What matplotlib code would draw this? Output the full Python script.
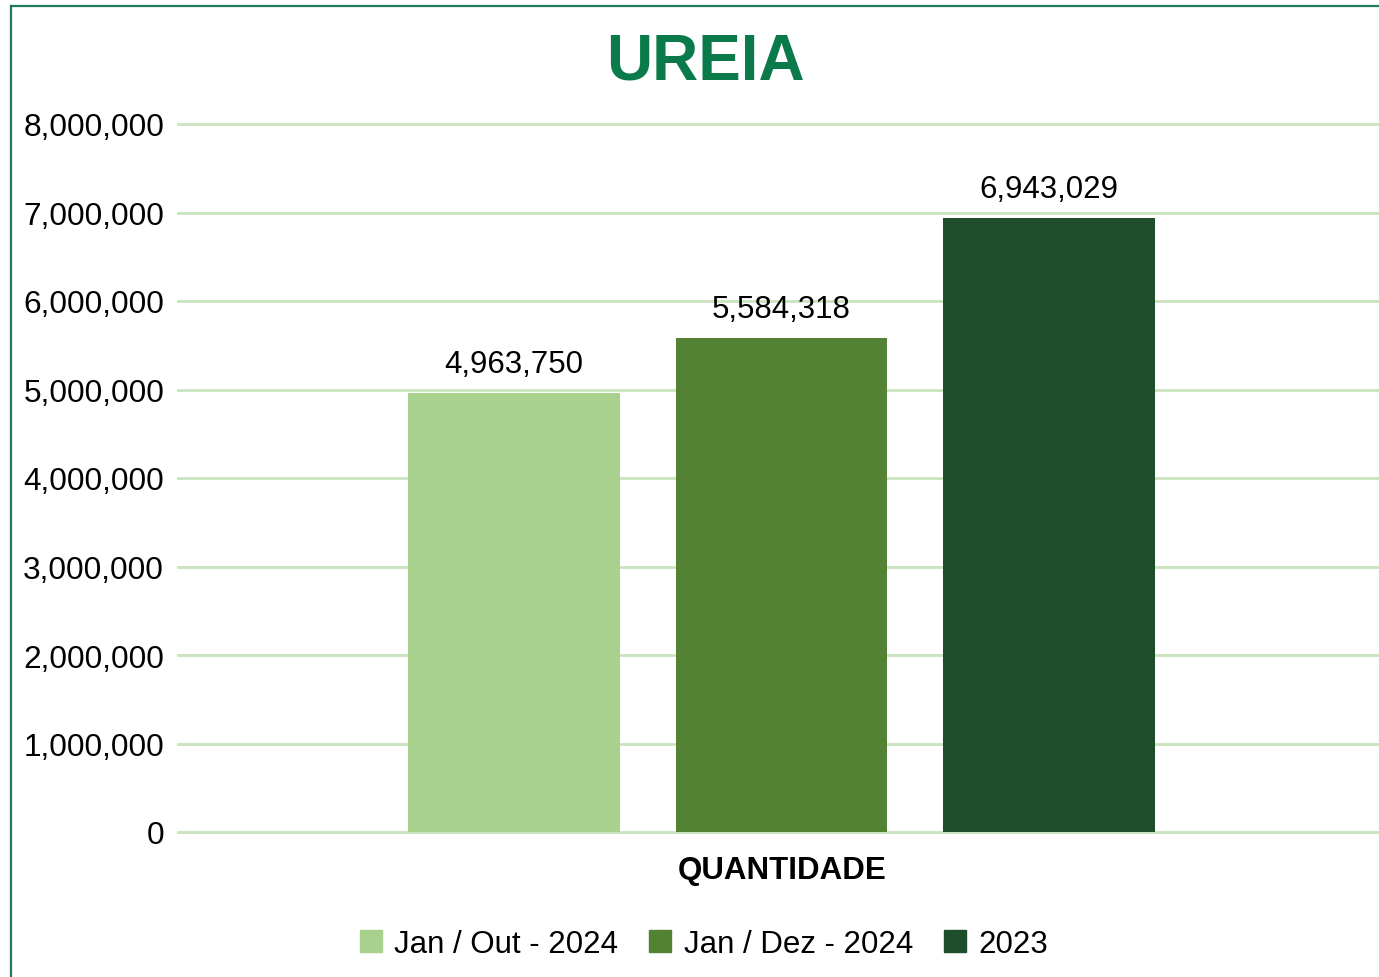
import matplotlib
matplotlib.use("Agg")
import matplotlib.pyplot as plt
from matplotlib.lines import Line2D
from matplotlib.patches import Patch
from matplotlib.ticker import FuncFormatter

plt.rcParams["font.family"] = ["Liberation Sans", "DejaVu Sans"]

series = ["Jan / Out - 2024", "Jan / Dez - 2024", "2023"]
values = [4963750, 5584318, 6943029]
colors = ["#A9D18E", "#548235", "#1E4D2B"]
category = "QUANTIDADE"
title = "UREIA"

W, H = 1379, 978
fig = plt.figure(figsize=(W / 100, H / 100), dpi=100)
ax = fig.add_axes([178 / W, 1 - 833 / H, 1 - 178 / W, (833 - 125) / H])

x = [0, 1, 2]
ax.bar(x, values, width=0.79, color=colors, zorder=3)
for xi, v in zip(x, values):
    ax.annotate(f"{v:,}", (xi, v), xytext=(0, 10), textcoords="offset points",
                ha="center", va="bottom", fontsize=22.5)

ax.set_xlim(-1.256, 3.234)
ax.set_ylim(0, 8000000)
ax.set_yticks(range(0, 8000001, 1000000))
ax.yaxis.set_major_formatter(FuncFormatter(lambda v, p: f"{int(v):,}"))
ax.tick_params(axis="y", length=0, pad=10, labelsize=22.8)
ax.set_xticks([])
ax.grid(axis="y", color="#C9E4BE", linewidth=2, zorder=0)
for gl in ax.get_ygridlines():
    gl.set_clip_on(False)
for s in ax.spines.values():
    s.set_visible(False)

fig.text(782 / W, 1 - 871 / H, category, ha="center", va="center",
         fontsize=22.5, fontweight="bold")
fig.text(705 / W, 1 - 62 / H, title, ha="center", va="center",
         fontsize=46, fontweight="bold", color="#0B7A4B")

handles = [Patch(color=c, label=s) for c, s in zip(colors, series)]
fig.legend(handles=handles, loc="center", bbox_to_anchor=(704 / W, 1 - 945 / H),
           ncol=3, frameon=False, fontsize=22.5, handlelength=0.7, handleheight=0.7,
           handletextpad=0.4, columnspacing=1.0)

# chart border (left and top edges visible)
fig.add_artist(Line2D([11 / W, 11 / W], [0, 1 - 7 / H], color="#1F7A55", linewidth=1.6))
fig.add_artist(Line2D([11 / W, 1], [1 - 7 / H, 1 - 7 / H], color="#1F7A55", linewidth=1.6))

fig.savefig("out.png", dpi=100)
